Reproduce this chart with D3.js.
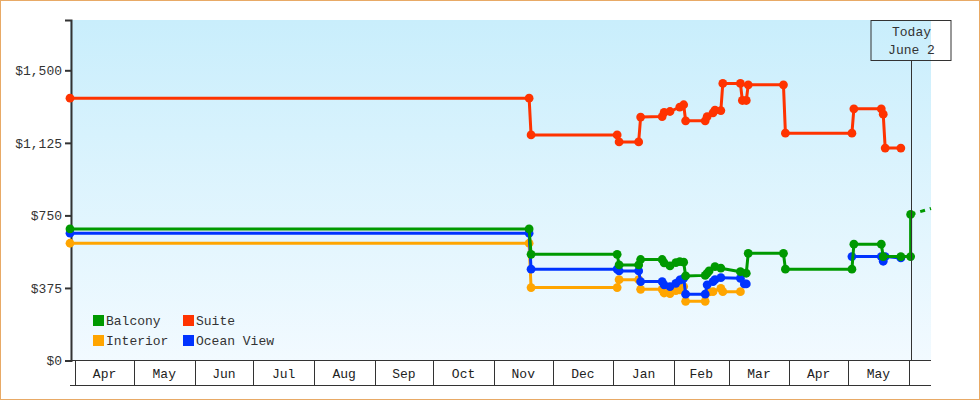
<!DOCTYPE html>
<html>
<head>
<meta charset="utf-8">
<script src="https://cdn.jsdelivr.net/npm/d3@7"></script>
<style>
  body { margin: 0; background: #fff; }
  svg { display: block; }
</style>
</head>
<body>
<svg id="chart" width="980" height="400"></svg>
<script>
// cabin price history, one [date, price] list per cabin type
const balcony = [
  ["2014-03-29T08", 680], ["2014-11-19", 680], ["2014-11-20", 549], ["2015-01-03", 549],
  ["2015-01-04", 494], ["2015-01-14", 494], ["2015-01-15", 522], ["2015-01-26", 522],
  ["2015-01-27", 505], ["2015-01-30", 489], ["2015-02-02", 506], ["2015-02-04", 511],
  ["2015-02-06", 508], ["2015-02-07", 437], ["2015-02-17", 440], ["2015-02-18", 451],
  ["2015-02-19", 463], ["2015-02-22", 485], ["2015-02-25", 477], ["2015-03-07", 459],
  ["2015-03-10", 451], ["2015-03-11", 554], ["2015-03-29", 554], ["2015-03-30", 472],
  ["2015-05-03", 472], ["2015-05-04", 601], ["2015-05-18", 601], ["2015-05-19", 537],
  ["2015-05-28", 537], ["2015-06-02", 537], ["2015-06-02", 755]
];
const balconyForecast = [["2015-06-02", 755], ["2015-06-12T10", 786]];

const suite = [
  ["2014-03-29T08", 1356], ["2014-11-19", 1356], ["2014-11-20", 1166], ["2015-01-03", 1166],
  ["2015-01-04", 1130], ["2015-01-14", 1130], ["2015-01-15", 1258], ["2015-01-26", 1261],
  ["2015-01-27", 1282], ["2015-01-30", 1287], ["2015-02-04", 1310], ["2015-02-06", 1322],
  ["2015-02-07", 1239], ["2015-02-17", 1239], ["2015-02-18", 1261], ["2015-02-21", 1280],
  ["2015-02-22", 1294], ["2015-02-25", 1292], ["2015-02-26", 1432], ["2015-03-07", 1432],
  ["2015-03-08", 1344], ["2015-03-10", 1344], ["2015-03-11", 1425], ["2015-03-29", 1425],
  ["2015-03-30", 1175], ["2015-05-03", 1175], ["2015-05-04", 1301], ["2015-05-18", 1301],
  ["2015-05-19", 1273], ["2015-05-20", 1098], ["2015-05-28", 1098]
];

const interior = [
  ["2014-03-29T08", 606], ["2014-11-19", 606], ["2014-11-20", 377], ["2015-01-03", 377],
  ["2015-01-04", 418], ["2015-01-14", 418], ["2015-01-15", 368], ["2015-01-26", 368],
  ["2015-01-27", 349], ["2015-01-30", 346], ["2015-02-02", 361], ["2015-02-04", 365],
  ["2015-02-06", 382], ["2015-02-07", 306], ["2015-02-17", 306], ["2015-02-19", 355],
  ["2015-02-21", 356], ["2015-02-25", 373], ["2015-02-26", 356], ["2015-03-07", 356]
];

const oceanView = [
  ["2014-03-29T08", 658], ["2014-11-19", 658], ["2014-11-20", 472], ["2015-01-03", 472],
  ["2015-01-04", 463], ["2015-01-14", 463], ["2015-01-15", 408], ["2015-01-26", 408],
  ["2015-01-27", 391], ["2015-01-30", 382], ["2015-02-02", 399], ["2015-02-04", 416],
  ["2015-02-06", 425], ["2015-02-07", 343], ["2015-02-17", 343], ["2015-02-18", 391],
  ["2015-02-21", 408], ["2015-02-22", 418], ["2015-02-25", 428], ["2015-03-07", 425],
  ["2015-03-09", 396], ["2015-03-10", 396], ["2015-03-20", null],
  ["2015-05-03", 537], ["2015-05-18", 537], ["2015-05-19", 513], ["2015-05-20", 537],
  ["2015-05-28", 530]
];

const yTicks = [0, 375, 750, 1125, 1500];
const todayDate = "2015-06-02";
const todayLabel = ["Today", "June 2"];

const parseDay = d3.timeParse("%Y-%m-%d");
const parseHour = d3.timeParse("%Y-%m-%dT%H");
const parse = s => (s.length > 10 ? parseHour(s) : parseDay(s));
const toPts = arr => arr.map(([d, v]) => ({ date: parse(d), value: v }));

const svg = d3.select("#chart");
const width = 980, height = 400;
const plotL = 70, plotR = 931, plotT = 20, plotB = 360.5;
const fontFam = "'Liberation Mono', 'DejaVu Sans Mono', monospace";
const ink = "#333";

// outer frame
svg.append("rect")
  .attr("x", 0.5).attr("y", 0.5)
  .attr("width", width - 1).attr("height", height - 1)
  .attr("fill", "#fff").attr("stroke", "#e8aa66");

// plot background gradient
const grad = svg.append("defs").append("linearGradient")
  .attr("id", "bg").attr("x1", 0).attr("y1", 0).attr("x2", 0).attr("y2", 1);
grad.append("stop").attr("offset", "0%").attr("stop-color", "#c9eefc");
grad.append("stop").attr("offset", "100%").attr("stop-color", "#f2faff");

svg.append("rect")
  .attr("x", plotL).attr("y", plotT)
  .attr("width", plotR - plotL).attr("height", plotB - plotT)
  .attr("fill", "url(#bg)");

const x = d3.scaleTime()
  .domain([parse("2014-03-29T08"), parse("2015-06-12T10")])
  .range([plotL, plotR]);
const y = d3.scaleLinear().domain([0, 1760]).range([plotB, plotT]);

// y axis
const yAxis = svg.append("g")
  .attr("transform", `translate(${plotL + 1},0)`)
  .call(d3.axisLeft(y).tickValues(yTicks).tickFormat(d3.format("$,")).tickSizeOuter(0).tickSize(6).tickPadding(3));
yAxis.attr("font-family", fontFam).attr("font-size", 13);
yAxis.select(".domain").attr("stroke", ink).attr("stroke-width", 2);
yAxis.selectAll(".tick line").attr("stroke", ink).attr("stroke-width", 2);
yAxis.selectAll(".tick text").attr("fill", ink);

// month cells under the plot
const months = d3.timeMonth.range(parse("2014-04-01"), parse("2015-06-02"));
const xg = svg.append("g").attr("stroke", ink).attr("shape-rendering", "crispEdges");
xg.append("line").attr("x1", plotL).attr("x2", plotR).attr("y1", 360.5).attr("y2", 360.5);
xg.append("line").attr("x1", plotL).attr("x2", plotR).attr("y1", 385.5).attr("y2", 385.5);
xg.selectAll(".cell")
  .data(months)
  .enter()
  .append("line")
  .attr("x1", d => Math.round(x(d)) + 0.5)
  .attr("x2", d => Math.round(x(d)) + 0.5)
  .attr("y1", 361).attr("y2", 385);

svg.append("g")
  .selectAll("text")
  .data(months.slice(0, -1))
  .enter()
  .append("text")
  .attr("x", (d, i) => (x(d) + x(months[i + 1])) / 2)
  .attr("y", 378)
  .attr("text-anchor", "middle")
  .attr("font-family", fontFam).attr("font-size", 13)
  .attr("fill", "#222")
  .text(d => d3.timeFormat("%b")(d));

// series
const line = d3.line()
  .defined(d => d.value != null)
  .x(d => x(d.date))
  .y(d => y(d.value));

const series = [
  { name: "Interior", data: toPts(interior), color: "#ffa500" },
  { name: "Ocean View", data: toPts(oceanView), color: "#0033ff" },
  { name: "Suite", data: toPts(suite), color: "#ff3300" },
  { name: "Balcony", data: toPts(balcony), color: "#009900" }
];

// dashed projection after today
svg.append("path")
  .datum(toPts(balconyForecast))
  .attr("d", line)
  .attr("fill", "none")
  .attr("stroke", "#009900")
  .attr("stroke-width", 3)
  .attr("stroke-dasharray", "5,5");

series.forEach(s => {
  svg.append("path")
    .datum(s.data)
    .attr("d", line)
    .attr("fill", "none")
    .attr("stroke", s.color)
    .attr("stroke-width", 3)
    .attr("stroke-linejoin", "round");

  svg.append("g")
    .selectAll("circle")
    .data(s.data.filter(d => d.value != null))
    .enter()
    .append("circle")
    .attr("cx", d => x(d.date))
    .attr("cy", d => y(d.value))
    .attr("r", 4.4)
    .attr("fill", s.color);
});

// today marker
const tx = Math.round(x(parse(todayDate))) + 0.5;
svg.append("line")
  .attr("x1", tx).attr("x2", tx)
  .attr("y1", 60.5).attr("y2", 360)
  .attr("stroke", ink);
svg.append("rect")
  .attr("x", tx - 40.5).attr("y", 20.5)
  .attr("width", 80).attr("height", 40)
  .attr("fill", "none").attr("stroke", ink);
svg.append("g")
  .selectAll("text")
  .data(todayLabel)
  .enter()
  .append("text")
  .attr("x", tx)
  .attr("y", (d, i) => 36 + i * 18)
  .attr("text-anchor", "middle")
  .attr("font-family", fontFam).attr("font-size", 13)
  .attr("fill", ink)
  .text(d => d);

// legend
const legendItems = [
  { name: "Balcony", color: "#009900", col: 0, row: 0 },
  { name: "Suite", color: "#ff3300", col: 1, row: 0 },
  { name: "Interior", color: "#ffa500", col: 0, row: 1 },
  { name: "Ocean View", color: "#0033ff", col: 1, row: 1 }
];
const lg = svg.append("g")
  .selectAll("g")
  .data(legendItems)
  .enter()
  .append("g")
  .attr("transform", d => `translate(${93 + d.col * 90},${315 + d.row * 20})`);
lg.append("rect").attr("width", 11).attr("height", 11).attr("fill", d => d.color);
lg.append("text")
  .attr("x", 13).attr("y", 10)
  .attr("font-family", fontFam).attr("font-size", 13)
  .attr("fill", ink)
  .text(d => d.name);
</script>
</body>
</html>
